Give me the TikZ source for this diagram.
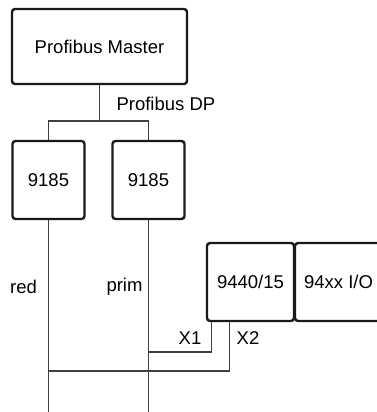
\documentclass[tikz,border=0pt]{standalone}
\usepackage{fontspec}
\setmainfont{Liberation Sans}
\usetikzlibrary{positioning}

\begin{document}
\begin{tikzpicture} [x=1pt, y=-1pt, font=\fontsize{18.5}{22}\selectfont,
  unit/.style={draw=black!90, line width=2.4pt, rounded corners=3pt, inner sep=0pt},
  wire/.style={draw=black!75, line width=1.2pt}]
\useasboundingbox (0,0) rectangle (377,412);
\begin{scope}
\clip (0,0) rectangle (377,412);
\node[unit, minimum width=175pt, minimum height=75pt] (master) at (99.5,46.5) {Profibus Master};
\node[unit, minimum width=72pt, minimum height=78pt] (red185) at (48.5,180) {9185};
\node[unit, minimum width=72pt, minimum height=78pt] (prim185) at (148.5,180) {9185};
\node[unit, minimum width=87pt, minimum height=78pt] (cpu) at (250.5,282) {9440/15};
\node[unit, minimum width=87pt, minimum height=78pt] (io) at (338.5,282) {94xx I/O};
\end{scope}
\coordinate (bus) at (99.5,121);
\coordinate (bottom) at (0,412);
\coordinate (x1end) at (prim185.south |- 0,352);
\coordinate (x2end) at (red185.south |- 0,371);
\draw [wire] (master.south) -- (bus);
\node[anchor=west] (dplbl) at (113,104) {Profibus DP};
\draw [wire] (red185.north) |- (bus) -| (prim185.north);
\draw [wire] (red185.south) -- (red185.south |- bottom);
\draw [wire] (prim185.south) -- (prim185.south |- bottom);
\draw [wire] ([xshift=6pt]cpu.south west) |- (x1end);
\draw [wire] ([xshift=24pt]cpu.south west) |- (x2end);
\node (redlbl) at (23.5,287) {red};
\node (primlbl) at (124.5,287) {prim};
\node (x1lbl) at (190,338) {X1};
\node (x2lbl) at (248,338) {X2};
\end{tikzpicture}
\end{document}
